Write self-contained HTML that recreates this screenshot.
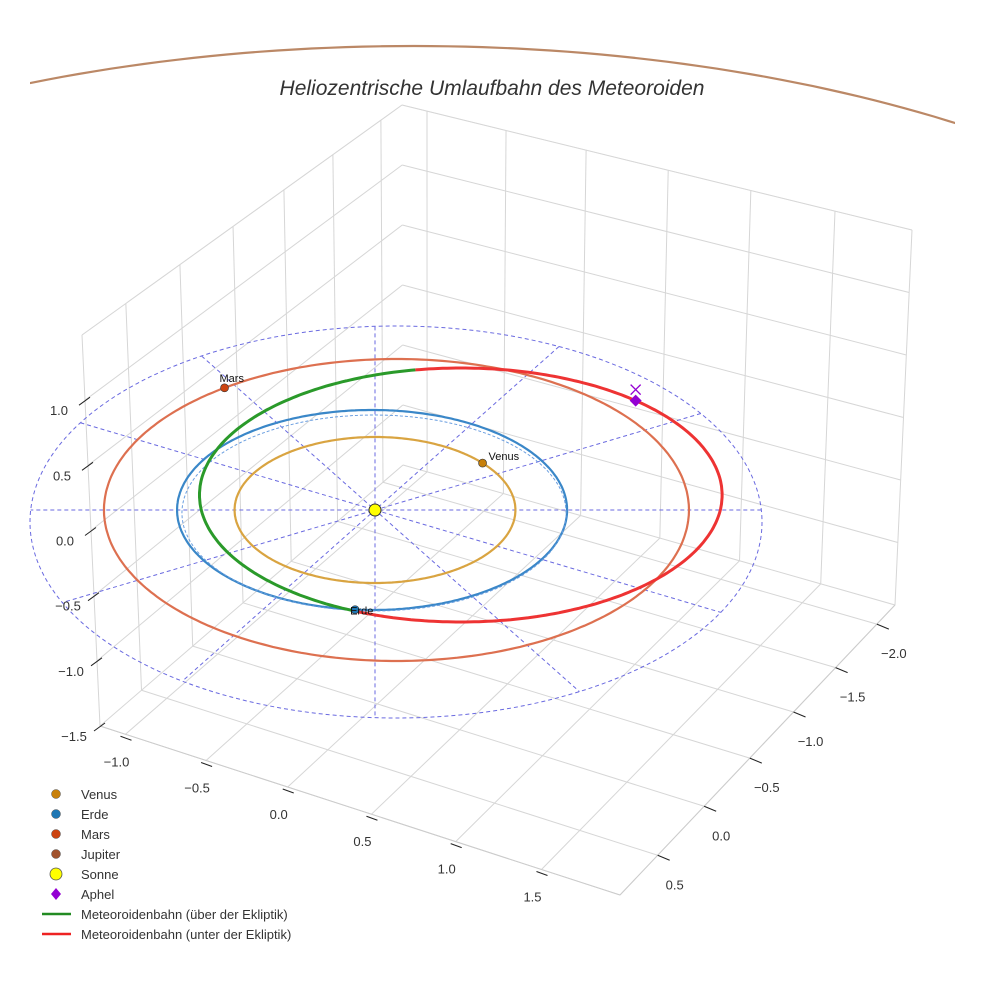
<!DOCTYPE html>
<html><head><meta charset="utf-8"><style>
body{margin:0;background:#fff}
svg{display:block;font-family:"Liberation Sans",sans-serif}
</style></head><body>
<svg id="chart" width="984" height="984" viewBox="0 0 984 984">
<defs><clipPath id="jclip"><rect x="30" y="0" width="925" height="200"/></clipPath></defs>
<rect width="984" height="984" fill="#fff"/>
<g id="grid"></g>
<g id="eclip"></g>
<g id="orbits"></g>
<g id="marks"></g>
<g id="axes" font-size="13" fill="#333"></g>
<text x="492" y="95" text-anchor="middle" font-size="21" font-style="italic" fill="#333">Heliozentrische Umlaufbahn des Meteoroiden</text>
<g font-size="13" fill="#333">
<circle cx="56" cy="794" r="4.5" fill="#c8800a" stroke="#555" stroke-width=".5"/><text x="81" y="799">Venus</text>
<circle cx="56" cy="814" r="4.5" fill="#1f77b4" stroke="#555" stroke-width=".5"/><text x="81" y="819">Erde</text>
<circle cx="56" cy="834" r="4.5" fill="#cc4411" stroke="#555" stroke-width=".5"/><text x="81" y="839">Mars</text>
<circle cx="56" cy="854" r="4.5" fill="#a0522d" stroke="#555" stroke-width=".5"/><text x="81" y="859">Jupiter</text>
<circle cx="56" cy="874" r="6" fill="#ffff00" stroke="#555" stroke-width=".8"/><text x="81" y="879">Sonne</text>
<path d="M56 888 L61 894 L56 900 L51 894Z" fill="#9400d3"/><text x="81" y="899">Aphel</text>
<line x1="42" y1="914" x2="71" y2="914" stroke="#228b22" stroke-width="2.5"/><text x="81" y="919">Meteoroidenbahn (über der Ekliptik)</text>
<line x1="42" y1="934" x2="71" y2="934" stroke="#ee2222" stroke-width="2.5"/><text x="81" y="939">Meteoroidenbahn (unter der Ekliptik)</text>
</g>
</svg>
<script>
// data
const planetNames=['Venus','Erde','Mars','Jupiter'];
const orbitAx=[0.72,1.0,1.5,5.03];
const orbitAy=[0.73,1.0,1.51,4.64];
const orbitOx=[0.0,-0.015,0.11,0.20];
const planetAngleDeg=[40,-95,126,null];
const meteorCenter=[0.44,0.15];
const meteorAxes=[1.34,1.27];
const meteorAboveRange=[100,246];
const aphelAngleDeg=48;
const zTickLabels=['1.0','0.5','0.0','−0.5','−1.0','−1.5'];
const xTickLabels=['−1.0','−0.5','0.0','0.5','1.0','1.5'];
const yTickLabels=['−2.0','−1.5','−1.0','−0.5','0.0','0.5'];
const radialAnglesDeg=[0,30,60,90,120,150];

const NS='http://www.w3.org/2000/svg';
function mk(p,t,a){const e=document.createElementNS(NS,t);for(const k in a)e.setAttribute(k,a[k]);p.appendChild(e);return e;}
const SX=375,SY=510,KX=195,KY=100;
function px(x){return SX+x*KX;} function py(y){return SY-y*KY;}
function lerp(a,b,t){return [a[0]+(b[0]-a[0])*t,a[1]+(b[1]-a[1])*t];}
function bil(p00,p10,p01,p11,u,v){return lerp(lerp(p00,p10,u),lerp(p01,p11,u),v);}
const grid=document.getElementById('grid');
const Bt=[402,105],Lt=[82,335],Bb=[403,465],Lb=[100,726],Rt=[912,230],Rb=[895,605],Fb=[620,895];
const lf=[0.066,0.216,0.369,0.528,0.694,0.863,1];
const rf=[0.049,0.204,0.361,0.522,0.684,0.849,1];
function ln(a,b,c,w){const e=mk(grid,'line',{x1:a[0],y1:a[1],x2:b[0],y2:b[1],stroke:c||'#d6d6d6','stroke-width':w||1});
}
ln(Bt,Lt,'#eee');ln(Bt,Rt,'#eee');
for(let i=0;i<=6;i++){const v=i/6;
 ln(lerp(Bt,Bb,v),lerp(Lt,Lb,v));ln(lerp(Bt,Bb,v),lerp(Rt,Rb,v));}
lf.forEach(u=>ln(lerp(Bt,Lt,u),lerp(Bb,Lb,u)));
rf.forEach(u=>ln(lerp(Bt,Rt,u),lerp(Bb,Rb,u)));
rf.forEach(u=>ln(bil(Bb,Rb,Lb,Fb,u,0),bil(Bb,Rb,Lb,Fb,u,1)));
lf.forEach(u=>ln(bil(Bb,Rb,Lb,Fb,0,u),bil(Bb,Rb,Lb,Fb,1,u)));
ln(Lb,Fb,'#ccc');ln(Fb,Rb,'#ccc');
const ec=document.getElementById('eclip');
const ECX=396,ECY=522,ERX=366,ERY=196;
let e=mk(ec,'ellipse',{cx:ECX,cy:ECY,rx:ERX,ry:ERY,fill:'none',stroke:'#6a6ae0','stroke-width':1,'stroke-dasharray':'4 3'});

function rayHit(dx,dy){const ax=(SX-ECX)/ERX,ay=(SY-ECY)/ERY,bx=dx/ERX,by=dy/ERY;
 const A=bx*bx+by*by,B=2*(ax*bx+ay*by),C=ax*ax+ay*ay-1;const t=(-B+Math.sqrt(B*B-4*A*C))/(2*A);return [SX+dx*t,SY+dy*t];}
radialAnglesDeg.forEach(a=>{const r=a*Math.PI/180,dx=Math.cos(r)*KX,dy=-Math.sin(r)*KY;
 const p1=rayHit(dx,dy),p2=rayHit(-dx,-dy);
 const l=mk(ec,'line',{x1:p1[0],y1:p1[1],x2:p2[0],y2:p2[1],stroke:'#6a6ae0','stroke-width':1,'stroke-dasharray':'4 3'});
 });
const og=document.getElementById('orbits');
const cols=['#d9a441','#3a87c8','#dd7050','#bb8866'];
function ellPath(cx,cy,ax,ay,t0,t1){let d='';for(let t=t0;t<=t1+0.01;t+=1){const r=t*Math.PI/180;
 d+=(d?'L':'M')+px(cx+ax*Math.cos(r)).toFixed(1)+' '+py(cy+ay*Math.sin(r)).toFixed(1);}return d;}
planetNames.forEach((n,i)=>{const p=mk(og,'path',{d:ellPath(orbitOx[i],0,orbitAx[i],orbitAy[i],0,360),fill:'none',stroke:cols[i],'stroke-width':2.2});
 if(n==='Jupiter')p.setAttribute('clip-path','url(#jclip)');
 });
let ed=mk(og,'path',{d:ellPath(orbitOx[1]+0.01,-0.03,orbitAx[1]*0.985,orbitAy[1]*0.98,0,360),fill:'none',stroke:'#6a9ee0','stroke-width':1,'stroke-dasharray':'3 2'});

const gp=mk(og,'path',{d:ellPath(meteorCenter[0],meteorCenter[1],meteorAxes[0],meteorAxes[1],meteorAboveRange[0],meteorAboveRange[1]),fill:'none',stroke:'#2a9a2a','stroke-width':3});

const rp=mk(og,'path',{d:ellPath(meteorCenter[0],meteorCenter[1],meteorAxes[0],meteorAxes[1],meteorAboveRange[1],meteorAboveRange[0]+360),fill:'none',stroke:'#ee3333','stroke-width':3});

const mg=document.getElementById('marks');
const mcol=['#c8800a','#1f77b4','#cc4411'];
planetAngleDeg.forEach((a,i)=>{if(a===null)return;const r=a*Math.PI/180;
 const x=px(orbitOx[i]+orbitAx[i]*Math.cos(r)),y=py(orbitAy[i]*Math.sin(r));
 const c=mk(mg,'circle',{cx:x,cy:y,r:4,fill:mcol[i],stroke:'#333','stroke-width':.6});
 
 const t=mk(mg,'text',{x:i===0?x+6:x-5,y:i===0?y-3:(i===1?y+5:y-6),'font-size':11,fill:'#111'});t.textContent=planetNames[i];
 });
const sun=mk(mg,'circle',{cx:SX,cy:SY,r:6,fill:'#ffff00',stroke:'#333','stroke-width':1});

const ar=aphelAngleDeg*Math.PI/180;
const axp=px(meteorCenter[0]+meteorAxes[0]*Math.cos(ar)),ayp=py(meteorCenter[1]+meteorAxes[1]*Math.sin(ar));
const ap=mk(mg,'path',{d:`M${axp} ${ayp-6}L${axp+6} ${ayp}L${axp} ${ayp+6}L${axp-6} ${ayp}Z`,fill:'#9400d3'});

const ax2=mk(mg,'path',{d:`M${axp-5} ${ayp-16}L${axp+5} ${ayp-6}M${axp+5} ${ayp-16}L${axp-5} ${ayp-6}`,stroke:'#9400d3','stroke-width':1.3});

const ag=document.getElementById('axes');
function lab(s,x,y,n){const t=mk(ag,'text',{x:x,y:y,'text-anchor':'middle'});t.textContent=s;}
function tk(a,b){const l=mk(ag,'line',{x1:a[0],y1:a[1],x2:b[0],y2:b[1],stroke:'#222','stroke-width':1});}
zTickLabels.forEach((s,i)=>{const p=lerp(Lt,Lb,(i+1)/6);tk([p[0]-6,p[1]+5],[p[0]+5,p[1]-3]);lab(s,p[0]-26,p[1]+15,'z-tick-label');});
xTickLabels.forEach((s,i)=>{const p=lerp(Lb,Fb,rf[i]);tk([p[0]-5,p[1]+2],[p[0]+6,p[1]+6]);lab(s,p[0]-9,p[1]+32,'x-tick-label');});
yTickLabels.forEach((s,i)=>{const p=lerp(Rb,Fb,lf[i]);tk([p[0],p[1]],[p[0]+12,p[1]+5]);lab(s,p[0]+17,p[1]+34,'y-tick-label');});
</script>
</body></html>
